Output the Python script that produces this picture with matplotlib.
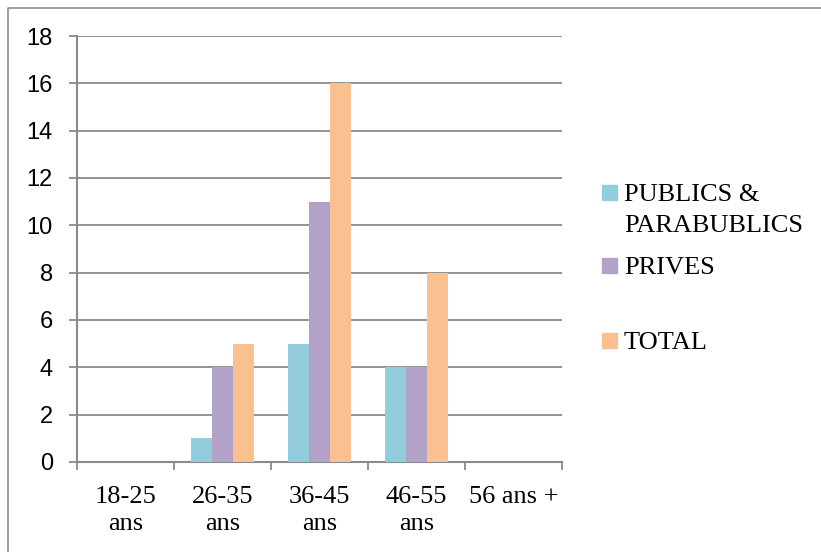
import numpy as np
import matplotlib
matplotlib.use("Agg")
import matplotlib.pyplot as plt
from matplotlib.patches import Rectangle
from matplotlib.lines import Line2D

# tranches d'age et effectifs par secteur
categories = ["18-25\nans", "26-35\nans", "36-45\nans", "46-55\nans", "56 ans +"]
publics = [0, 1, 5, 4, 0]
prives = [0, 4, 11, 4, 0]
total = [0, 5, 16, 8, 0]
series_names = ["PUBLICS &\nPARABUBLICS", "PRIVES", "TOTAL"]
colors = ["#93CDDD", "#B3A2C7", "#FAC090"]

W, H = 821, 552
fig = plt.figure(figsize=(W / 100, H / 100), dpi=100)
ax = fig.add_axes([77 / W, 1 - 462 / H, (562 - 77) / W, (462 - 36) / H])

x = np.arange(len(categories))
bw = 0.216
for i, (vals, col) in enumerate(zip([publics, prives, total], colors)):
    ax.bar(x + (i - 1) * bw, vals, width=bw, color=col, zorder=3)

ax.set_xlim(-0.5, len(categories) - 0.5)
ax.set_ylim(0, 18)
ax.set_yticks(np.arange(0, 19, 2))
ax.yaxis.grid(True, color="#8A8A8A", lw=1.3, zorder=0)
ax.set_axisbelow(True)

for s in ["top", "right"]:
    ax.spines[s].set_visible(False)
for s in ["left", "bottom"]:
    ax.spines[s].set_color("#8A8A8A")
    ax.spines[s].set_linewidth(1.5)

ax.tick_params(axis="y", direction="out", length=5.8, width=1.3, color="#8A8A8A", pad=11.5)
for lab in ax.get_yticklabels():
    lab.set_fontfamily("Liberation Sans")
    lab.set_fontsize(17)

ax.set_xticks(x)
ax.set_xticklabels(categories, fontfamily="Liberation Serif", fontsize=19,
                   linespacing=1.3)
ax.set_xticks(np.arange(-0.5, len(categories), 1), minor=True)
ax.tick_params(axis="x", which="major", length=0, pad=17.5)
ax.tick_params(axis="x", which="minor", direction="out", length=5.8, width=1.3,
               color="#8A8A8A")

# legende a droite (une ligne de texte par appel, 31 px entre lignes)
sq = 15
legend_y = [192, 265, 340]
for name, col, yc in zip(series_names, colors, legend_y):
    fig.patches.append(Rectangle((602 / W, 1 - (yc + sq / 2) / H), sq / W, sq / H,
                                 transform=fig.transFigure, color=col))
    for k, line in enumerate(name.split("\n")):
        fig.text(624 / W, 1 - (yc + 9 + 31 * k) / H, line, fontfamily="Liberation Serif",
                 fontsize=19, va="baseline", ha="left")

# cadre de la zone graphique
fig.lines.append(Line2D([8 / W, 8 / W, 1.0], [0.0, 1 - 8 / H, 1 - 8 / H],
                        transform=fig.transFigure, color="#868686", lw=1.1))

fig.savefig("out.png", dpi=100)
